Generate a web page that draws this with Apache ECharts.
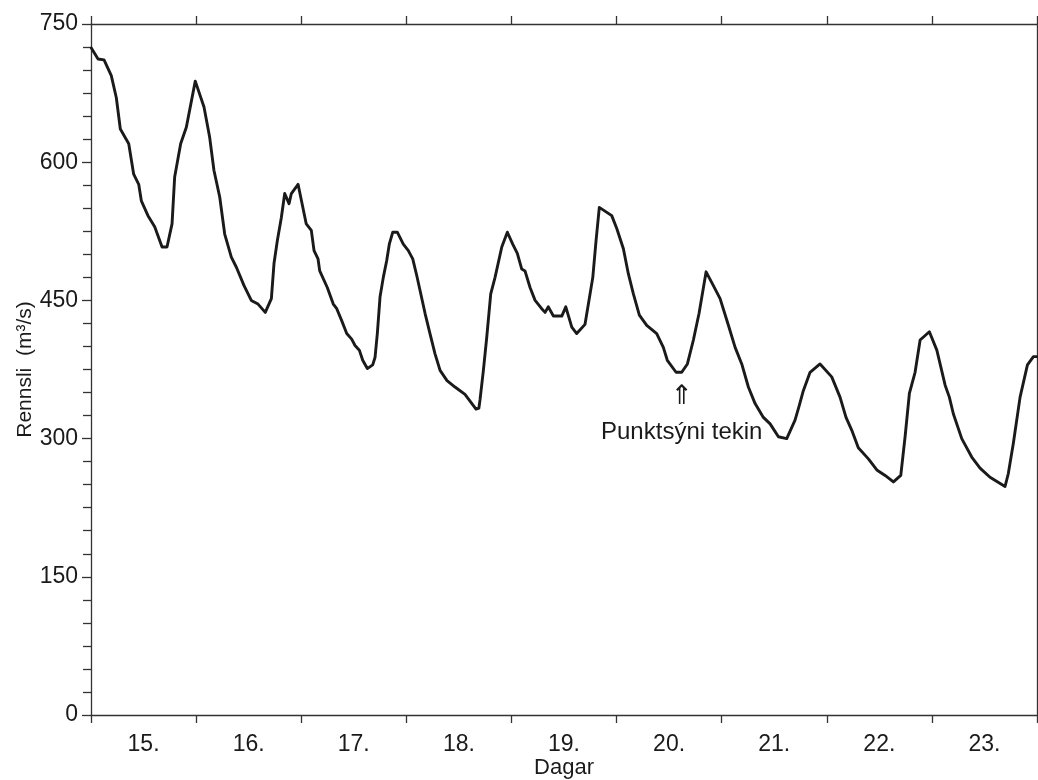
<!DOCTYPE html>
<html>
<head>
<meta charset="utf-8">
<title>Rennsli</title>
<script src="https://cdn.jsdelivr.net/npm/echarts@6/dist/echarts.min.js"></script>
<style>
  html, body { margin: 0; padding: 0; background: #fff; }
  #chart { width: 1038px; height: 780px; }
</style>
</head>
<body>
<div id="chart"></div>
<script>
// Day labels shown under each day span
const dayLabels = ['15.', '16.', '17.', '18.', '19.', '20.', '21.', '22.', '23.'];

// Time of each reading, in days (15.0 = start of the 15th)
const flowDays = [
  15.003, 15.067, 15.124, 15.193, 15.241, 15.279, 15.359, 15.406, 15.454, 15.479,
  15.542, 15.606, 15.676, 15.723, 15.771, 15.796, 15.853, 15.907, 15.992, 16.075,
  16.129, 16.170, 16.225, 16.272, 16.335, 16.383, 16.456, 16.525, 16.589, 16.658,
  16.716, 16.741, 16.773, 16.811, 16.843, 16.884, 16.906, 16.970, 17.048, 17.096,
  17.122, 17.160, 17.176, 17.248, 17.305, 17.338, 17.385, 17.433, 17.480, 17.512,
  17.553, 17.585, 17.629, 17.680, 17.702, 17.724, 17.750, 17.781, 17.813, 17.838,
  17.871, 17.914, 17.971, 18.019, 18.061, 18.099, 18.130, 18.178, 18.225, 18.273,
  18.321, 18.387, 18.463, 18.558, 18.663, 18.690, 18.701, 18.733, 18.765, 18.803,
  18.844, 18.908, 18.961, 19.012, 19.056, 19.098, 19.129, 19.177, 19.225, 19.288,
  19.320, 19.351, 19.399, 19.479, 19.517, 19.574, 19.621, 19.700, 19.732, 19.774,
  19.805, 19.836, 19.954, 20.002, 20.065, 20.112, 20.160, 20.217, 20.287, 20.382,
  20.445, 20.483, 20.566, 20.620, 20.674, 20.731, 20.785, 20.852, 20.921, 20.985,
  21.064, 21.128, 21.191, 21.254, 21.318, 21.397, 21.461, 21.540, 21.619, 21.698,
  21.736, 21.777, 21.841, 21.936, 22.047, 22.126, 22.183, 22.238, 22.300, 22.396,
  22.476, 22.555, 22.634, 22.704, 22.745, 22.786, 22.840, 22.888, 22.976, 23.047,
  23.126, 23.166, 23.204, 23.284, 23.379, 23.458, 23.553, 23.696, 23.727, 23.775,
  23.839, 23.909, 23.966, 23.998
];

// Discharge (m³/s) at each reading
const flowValues = [
  724, 712, 711, 694, 670, 636, 620, 587, 576, 558,
  542, 530, 508, 508, 533, 584, 620, 638, 688, 660,
  627, 591, 562, 522, 497, 486, 466, 450, 446, 437,
  452, 490, 515, 540, 566, 555, 566, 576, 533, 526,
  504, 495, 482, 464, 446, 441, 428, 414, 408, 401,
  396, 385, 376, 380, 388, 414, 454, 475, 493, 511,
  524, 524, 511, 504, 495, 477, 461, 436, 414, 392,
  374, 363, 356, 348, 332, 333, 342, 374, 410, 457,
  475, 508, 524, 511, 501, 484, 482, 464, 450, 441,
  437, 443, 433, 433, 443, 421, 414, 424, 446, 475,
  515, 551, 542, 528, 506, 479, 457, 434, 423, 414,
  399, 385, 372, 372, 381, 407, 436, 481, 466, 452,
  423, 399, 381, 356, 338, 323, 316, 302, 300, 320,
  335, 352, 372, 381, 367, 345, 323, 309, 290, 278,
  266, 260, 253, 260, 302, 349, 372, 407, 416, 396,
  358, 345, 327, 300, 280, 268, 258, 248, 262, 295,
  345, 380, 389, 389
];

// Reading marked as the sampling time
const sampleDay = 20.62;
const sampleValue = 372;
const sampleText = 'Punktsýni tekin';

const yTicks = { min: 0, max: 750, interval: 150 };
const dayRange = { min: 15, max: 24, interval: 1 };

const FONT = '"Liberation Sans", Arial, Helvetica, sans-serif';
const INK = '#1a1a1a';
const AXIS = '#333';

const points = flowDays.map((d, i) => [d, flowValues[i]]);

const chart = echarts.init(document.getElementById('chart'), null, { renderer: 'canvas' });

// invisible anchor for the annotation labels
const noMark = { symbol: 'circle', symbolSize: 1, itemStyle: { color: 'rgba(0,0,0,0)' } };

chart.setOption({
  backgroundColor: '#ffffff',
  animation: false,
  grid: { left: 91, right: 1, top: 24, bottom: 65, containLabel: false, outerBoundsMode: 'none' },
  xAxis: [
    {
      // day names centred under each day
      type: 'category',
      position: 'bottom',
      data: dayLabels,
      boundaryGap: true,
      name: 'Dagar',
      nameLocation: 'middle',
      nameGap: 42,
      nameMoveOverlap: false,
      nameTextStyle: { fontFamily: FONT, fontSize: 22, color: INK },
      axisLine: { show: true, lineStyle: { color: AXIS, width: 1.3 } },
      axisTick: { show: true, inside: false, length: 8, alignWithLabel: false, lineStyle: { color: AXIS, width: 1.3 } },
      axisLabel: { fontFamily: FONT, fontSize: 23, color: INK, margin: 18 },
      splitLine: { show: false }
    },
    {
      // time axis used by the series, drawn as the top frame
      type: 'value',
      position: 'top',
      min: dayRange.min,
      max: dayRange.max,
      interval: dayRange.interval,
      axisLine: { show: true, onZero: false, lineStyle: { color: AXIS, width: 1.3 } },
      axisTick: { show: true, inside: false, length: 8, lineStyle: { color: AXIS, width: 1.3 } },
      axisLabel: { show: false },
      splitLine: { show: false }
    }
  ],
  yAxis: [
    {
      type: 'value',
      position: 'left',
      min: yTicks.min,
      max: yTicks.max,
      interval: yTicks.interval,
      name: 'Rennsli  (m³/s)',
      nameLocation: 'middle',
      nameGap: 55,
      nameMoveOverlap: false,
      nameTextStyle: { fontFamily: FONT, fontSize: 21, color: INK },
      axisLine: { show: true, lineStyle: { color: AXIS, width: 1.3 } },
      axisTick: { show: true, inside: false, length: 9, lineStyle: { color: AXIS, width: 1.3 } },
      minorTick: { show: true, splitNumber: 6, length: 8, lineStyle: { color: AXIS, width: 1.3 } },
      axisLabel: { fontFamily: FONT, fontSize: 23, color: INK, margin: 13 },
      splitLine: { show: false },
      minorSplitLine: { show: false }
    },
    {
      type: 'value',
      position: 'right',
      min: yTicks.min,
      max: yTicks.max,
      interval: yTicks.interval,
      axisLine: { show: true, lineStyle: { color: AXIS, width: 1.3 } },
      axisTick: { show: false },
      axisLabel: { show: false },
      splitLine: { show: false }
    }
  ],
  series: [
    {
      type: 'line',
      xAxisIndex: 1,
      yAxisIndex: 0,
      data: points,
      showSymbol: false,
      symbol: 'none',
      smooth: false,
      lineStyle: { color: INK, width: 2.9, join: 'round', cap: 'round' },
      markPoint: {
        silent: true,
        data: [
          Object.assign({
            coord: [sampleDay, sampleValue],
            label: {
              show: true,
              formatter: '⇑',
              position: 'inside',
              offset: [0, 25],
              fontFamily: '"DejaVu Sans", sans-serif',
              fontSize: 27,
              color: INK
            }
          }, noMark),
          Object.assign({
            coord: [sampleDay, sampleValue],
            label: {
              show: true,
              formatter: sampleText,
              position: 'inside',
              offset: [0, 60],
              fontFamily: FONT,
              fontSize: 24,
              color: INK
            }
          }, noMark)
        ]
      }
    }
  ]
});
</script>
</body>
</html>
